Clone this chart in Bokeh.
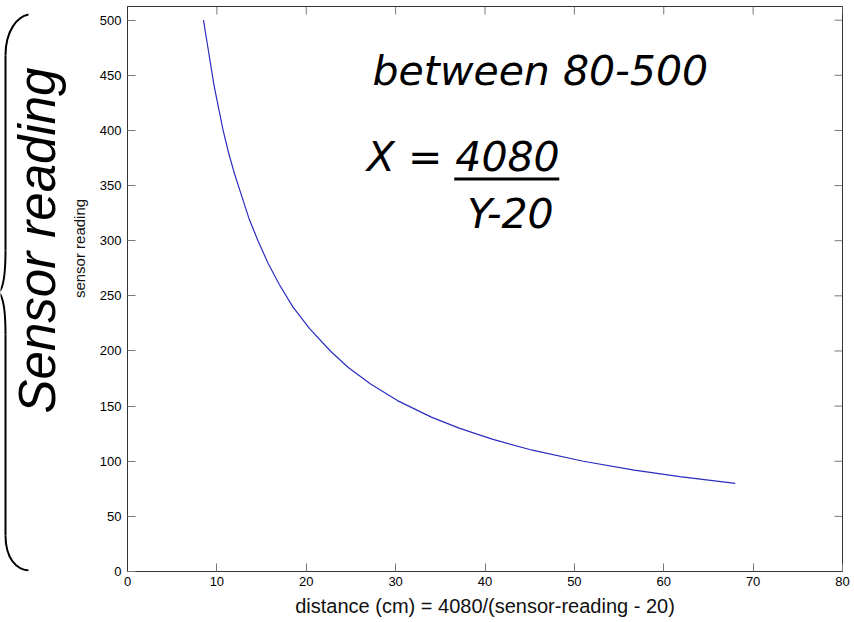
import math
from bokeh.plotting import figure
from bokeh.models import Range1d, FixedTicker
from bokeh.layouts import row
from bokeh.core.properties import value
from bokeh.embed import file_html
from bokeh.resources import INLINE

# ---- data ----
sensor_reading = [500, 480, 460, 440, 420, 400, 380, 360, 340, 320, 300, 280, 260,
                  240, 220, 200, 185, 170, 155, 140, 130, 120, 110, 100, 92, 86, 80]
distance_cm = [8.5, 8.9, 9.3, 9.7, 10.2, 10.7, 11.3, 12.0, 12.8, 13.6, 14.6, 15.7, 17.0,
               18.5, 20.4, 22.7, 24.7, 27.2, 30.2, 34.0, 37.1, 40.8, 45.3, 51.0, 56.7, 61.8, 68.0]
x_ticks = [0, 10, 20, 30, 40, 50, 60, 70, 80]
y_ticks = [0, 50, 100, 150, 200, 250, 300, 350, 400, 450, 500]

FONT = "Liberation Sans"
X_MAX = 80
Y_MAX = 512.4

# ---- main plot ----
p = figure(width=758, height=622, x_range=Range1d(0, X_MAX), y_range=Range1d(0, Y_MAX),
           output_backend="svg", toolbar_location=None,
           min_border_left=29, min_border_right=12, min_border_top=6, min_border_bottom=51)
p.grid.visible = False
p.outline_line_color = "#333333"
p.outline_line_width = 1
p.background_fill_color = "white"
p.border_fill_color = "white"

for ax, ticks in ((p.xaxis, x_ticks), (p.yaxis, y_ticks)):
    ax.ticker = FixedTicker(ticks=ticks)
    ax.major_tick_in = 8
    ax.major_tick_out = 0
    ax.minor_tick_in = 0
    ax.minor_tick_out = 0
    ax.major_tick_line_color = "#777777"
    ax.axis_line_color = "#333333"
    ax.major_label_text_font = FONT
    ax.major_label_text_font_size = "13px"
    ax.major_label_text_color = "black"

p.yaxis.major_label_standoff = 6
p.xaxis.major_label_standoff = 5
p.xaxis.axis_label = "distance (cm) = 4080/(sensor-reading - 20)"
p.xaxis.axis_label_text_font = FONT
p.xaxis.axis_label_text_font_style = "normal"
p.xaxis.axis_label_text_font_size = "20px"
p.xaxis.axis_label_text_color = "#111111"
p.xaxis.axis_label_standoff = 6

# mirrored ticks on top and right edges of the box
tick_len_y = 8 * Y_MAX / 565.0
tick_len_x = 8 * X_MAX / 717.0
p.segment(x0=x_ticks, y0=[Y_MAX] * len(x_ticks), x1=x_ticks,
          y1=[Y_MAX - tick_len_y] * len(x_ticks), line_color="#777777", line_width=1)
p.segment(x0=[X_MAX] * len(y_ticks), y0=y_ticks, x1=[X_MAX - tick_len_x] * len(y_ticks),
          y1=y_ticks, line_color="#777777", line_width=1)

p.line(x=distance_cm, y=sensor_reading, line_color="#2c2cc0", line_width=1.2)

# annotations
ann_font = value("DejaVu Sans")
p.text(x=[46.19], y=[453.8], text=["between 80-500"], text_font=ann_font,
       text_font_style="italic", text_font_size="41px", text_align="center",
       text_baseline="middle", text_color="black")
p.text(x=[26.78], y=[375.8], text=["X = 4080"], text_font=ann_font,
       text_font_style="italic", text_font_size="41px", text_align="left",
       text_baseline="middle", text_color="black")
p.text(x=[42.85], y=[324.0], text=["Y-20"], text_font=ann_font,
       text_font_style="italic", text_font_size="41px", text_align="center",
       text_baseline="middle", text_color="black")
p.segment(x0=[36.56], y0=[355.9], x1=[48.31], y1=[355.9], line_color="black", line_width=3)

# ---- left panel: brace + big label (coordinates = page pixels, y negated) ----
# its frame is aligned with the main frame (page y 6..571)
lf = figure(width=96, height=622, x_range=Range1d(0, 96), y_range=Range1d(-571, -6),
            output_backend="svg", toolbar_location=None, min_border=0,
            x_axis_type=None, y_axis_type=None)
lf.outline_line_color = None
lf.background_fill_color = "white"
lf.border_fill_color = "white"

lf.text(x=[37], y=[-240], text=["Sensor reading"], angle=math.pi / 2,
        text_font=value(FONT), text_font_style="italic", text_font_size="51px",
        text_align="center", text_baseline="middle", text_color="black")
lf.text(x=[79], y=[-248], text=["sensor reading"], angle=math.pi / 2,
        text_font=value(FONT), text_font_size="15px",
        text_align="center", text_baseline="middle", text_color="#111111")

bx0 = [28, 5, -2, 5]
by0 = [-14, -250, -292, -535]
bx1 = [5, -2, 5, 28]
by1 = [-55, -292, -334, -570]
bcx0 = [17, 5, 2, 5]
bcy0 = [-16, -278, -295, -558]
bcx1 = [5, 2, 5, 16]
bcy1 = [-30, -289, -306, -569]
lf.bezier(x0=bx0, y0=by0, x1=bx1, y1=by1, cx0=bcx0, cy0=bcy0, cx1=bcx1, cy1=bcy1,
          line_color="black", line_width=2)
lf.segment(x0=[5, 5], y0=[-55, -334], x1=[5, 5], y1=[-250, -535],
           line_color="black", line_width=2)

layout = row(lf, p)
open("out.html", "w").write(file_html(layout, INLINE))
